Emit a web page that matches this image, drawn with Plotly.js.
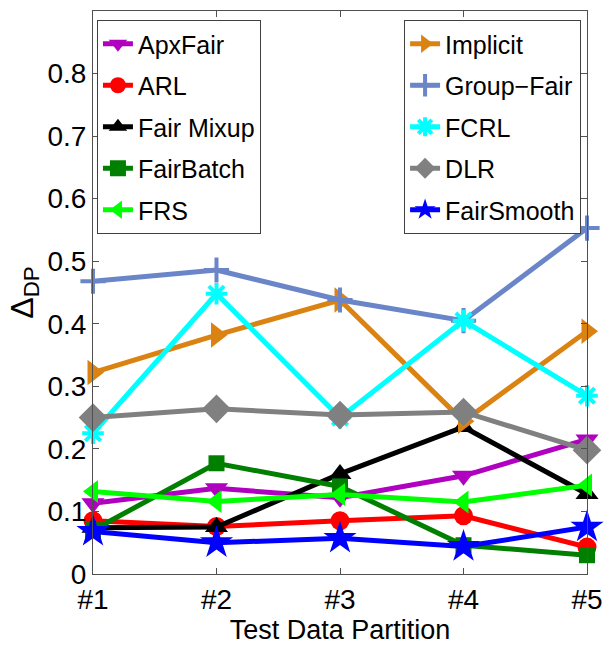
<!DOCTYPE html>
<html>
<head>
<meta charset="utf-8">
<script src="https://cdn.plot.ly/plotly-3.0.1.min.js"></script>
<style>html,body{margin:0;padding:0;background:#fff}#chart{width:610px;height:649px}</style>
</head>
<body>
<div id="chart"></div>
<script>
var categories = ['#1', '#2', '#3', '#4', '#5'];
var yTickVals = [0, 0.1, 0.2, 0.3, 0.4, 0.5, 0.6, 0.7, 0.8];
var yTickText = ['0', '0.1', '0.2', '0.3', '0.4', '0.5', '0.6', '0.7', '0.8'];

var apxFair    = [0.113, 0.137, 0.122, 0.157, 0.215];
var arl        = [0.085, 0.076, 0.085, 0.093, 0.043];
var fairMixup  = [0.074, 0.075, 0.160, 0.235, 0.128];
var fairBatch  = [0.070, 0.177, 0.140, 0.046, 0.030];
var frs        = [0.132, 0.116, 0.127, 0.115, 0.142];
var implicit   = [0.322, 0.382, 0.438, 0.244, 0.388];
var groupFair  = [0.468, 0.486, 0.438, 0.405, 0.553];
var fcrl       = [0.225, 0.448, 0.250, 0.405, 0.285];
var dlr        = [0.250, 0.264, 0.254, 0.259, 0.198];
var fairSmooth = [0.068, 0.050, 0.057, 0.044, 0.075];

var FONT = 'Liberation Sans, Arial, Helvetica, sans-serif';

function tr(name, y, color, symbol, legend, size, open) {
  var m = {symbol: symbol, size: size, color: color, line: {width: 0, color: color}};
  if (open) { m.line = {width: 4, color: color}; }
  return {
    type: 'scatter', mode: 'lines+markers', name: name, legendgroup: name,
    x: categories, y: y, cliponaxis: false, legend: legend,
    line: {color: color, width: 5}, marker: m
  };
}

var data = [
  tr('ApxFair', apxFair, '#B000C0', 'triangle-down', 'legend', 20),
  tr('ARL', arl, '#FF0000', 'circle', 'legend', 19),
  tr('Fair Mixup', fairMixup, '#000000', 'triangle-up', 'legend', 20),
  tr('FairBatch', fairBatch, '#007F00', 'square', 'legend', 16),
  tr('FRS', frs, '#00FF00', 'triangle-left', 'legend', 20),
  tr('Implicit', implicit, '#DB8312', 'triangle-right', 'legend2', 22),
  tr('Group\u2212Fair', groupFair, '#6A86C8', 'cross-thin', 'legend2', 18, true),
  tr('FCRL', fcrl, '#00FFFF', 'asterisk', 'legend2', 18, true),
  tr('DLR', dlr, '#808080', 'diamond', 'legend2', 22),
  tr('FairSmooth', fairSmooth, '#0000FF', 'star', 'legend2', 25)
];

var axisCommon = {
  showline: true, linecolor: '#505050', linewidth: 1, mirror: 'ticks',
  ticks: 'inside', ticklen: 6, tickcolor: '#505050', tickwidth: 1,
  showgrid: false, zeroline: false,
  tickfont: {family: FONT, size: 28, color: '#000'}
};

var legendCommon = {
  bgcolor: '#fff', bordercolor: '#404040', borderwidth: 1,
  font: {family: FONT, size: 25, color: '#000'},
  traceorder: 'grouped', tracegroupgap: 6,
  yanchor: 'top', y: 0.984, itemsizing: 'trace'
};

var layout = {
  width: 610, height: 649,
  margin: {l: 93, r: 23, t: 11, b: 75},
  paper_bgcolor: '#fff', plot_bgcolor: '#fff',
  font: {family: FONT, color: '#000'},
  xaxis: Object.assign({}, axisCommon, {
    type: 'category', range: [0, 4],
    title: {text: 'Test Data Partition', font: {family: FONT, size: 27, color: '#000'}, standoff: 4}
  }),
  yaxis: Object.assign({}, axisCommon, {
    range: [0, 0.9], tickvals: yTickVals, ticktext: yTickText,
    title: {text: '\u0394<sub>DP</sub>', font: {family: FONT, size: 32, color: '#000'}, standoff: 4}
  }),
  legend: Object.assign({}, legendCommon, {x: 0.008, xanchor: 'left'}),
  legend2: Object.assign({}, legendCommon, {x: 0.988, xanchor: 'right'}),
  showlegend: true
};

Plotly.newPlot('chart', data, layout, {displayModeBar: false, staticPlot: true});
</script>
</body>
</html>
